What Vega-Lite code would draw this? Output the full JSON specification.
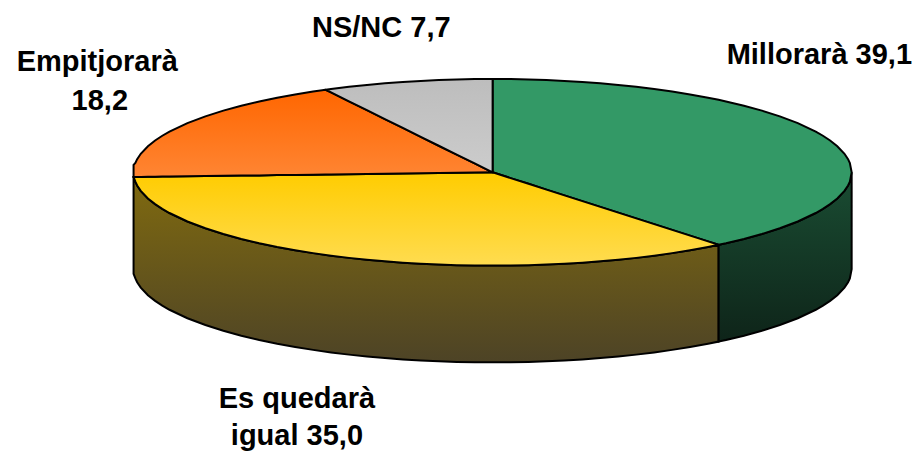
{"$schema":"https://vega.github.io/schema/vega-lite/v6.json","width":917,"height":452,"autosize":{"type":"fit","contains":"padding"},"padding":0,"background":"white","config":{"view":{"stroke":null}},
"datasets":{
"wallOlive":[{"x":-100,"y":-5,"y2":-108.7},{"x":-99.5,"y":-10,"y2":-113.7},{"x":-99,"y":-14.1,"y2":-117.8},{"x":-98,"y":-19.9,"y2":-123.6},{"x":-96,"y":-28,"y2":-131.7},{"x":-94,"y":-34.1,"y2":-137.8},{"x":-92,"y":-39.2,"y2":-142.9},{"x":-90,"y":-43.6,"y2":-147.3},{"x":-85,"y":-52.7,"y2":-156.4},{"x":-80,"y":-60,"y2":-163.7},{"x":-75,"y":-66.1,"y2":-169.8},{"x":-70,"y":-71.4,"y2":-175.1},{"x":-65,"y":-76,"y2":-179.7},{"x":-60,"y":-80,"y2":-183.7},{"x":-55,"y":-83.5,"y2":-187.2},{"x":-50,"y":-86.6,"y2":-190.3},{"x":-45,"y":-89.3,"y2":-193},{"x":-40,"y":-91.7,"y2":-195.4},{"x":-35,"y":-93.7,"y2":-197.4},{"x":-30,"y":-95.4,"y2":-199.1},{"x":-25,"y":-96.8,"y2":-200.5},{"x":-20,"y":-98,"y2":-201.7},{"x":-15,"y":-98.9,"y2":-202.6},{"x":-10,"y":-99.5,"y2":-203.2},{"x":-5,"y":-99.9,"y2":-203.6},{"x":0,"y":-100,"y2":-203.7},{"x":5,"y":-99.9,"y2":-203.6},{"x":10,"y":-99.5,"y2":-203.2},{"x":15,"y":-98.9,"y2":-202.6},{"x":20,"y":-98,"y2":-201.7},{"x":25,"y":-96.8,"y2":-200.5},{"x":30,"y":-95.4,"y2":-199.1},{"x":35,"y":-93.7,"y2":-197.4},{"x":40,"y":-91.7,"y2":-195.4},{"x":45,"y":-89.3,"y2":-193},{"x":50,"y":-86.6,"y2":-190.3},{"x":55,"y":-83.5,"y2":-187.2},{"x":60,"y":-80,"y2":-183.7},{"x":62.95,"y":-77.7,"y2":-181.4}],
"wallGreen":[{"x":62.95,"y":-77.7,"y2":-181.4},{"x":65,"y":-76,"y2":-179.7},{"x":70,"y":-71.4,"y2":-175.1},{"x":75,"y":-66.1,"y2":-169.8},{"x":80,"y":-60,"y2":-163.7},{"x":85,"y":-52.7,"y2":-156.4},{"x":90,"y":-43.6,"y2":-147.3},{"x":92,"y":-39.2,"y2":-142.9},{"x":94,"y":-34.1,"y2":-137.8},{"x":96,"y":-28,"y2":-131.7},{"x":98,"y":-19.9,"y2":-123.6},{"x":99,"y":-14.1,"y2":-117.8},{"x":99.5,"y":-10,"y2":-113.7},{"x":100,"y":0,"y2":-103.7}],
"topGreen":[{"x":0,"y":100,"y2":0},{"x":5,"y":99.9,"y2":-6.2},{"x":10,"y":99.5,"y2":-12.3},{"x":15,"y":98.9,"y2":-18.5},{"x":20,"y":98,"y2":-24.7},{"x":25,"y":96.8,"y2":-30.9},{"x":30,"y":95.4,"y2":-37},{"x":35,"y":93.7,"y2":-43.2},{"x":40,"y":91.7,"y2":-49.4},{"x":45,"y":89.3,"y2":-55.5},{"x":50,"y":86.6,"y2":-61.7},{"x":55,"y":83.5,"y2":-67.9},{"x":60,"y":80,"y2":-74},{"x":62.95,"y":77.7,"y2":-77.7},{"x":65,"y":76,"y2":-76},{"x":70,"y":71.4,"y2":-71.4},{"x":75,"y":66.1,"y2":-66.1},{"x":80,"y":60,"y2":-60},{"x":85,"y":52.7,"y2":-52.7},{"x":90,"y":43.6,"y2":-43.6},{"x":92,"y":39.2,"y2":-39.2},{"x":94,"y":34.1,"y2":-34.1},{"x":96,"y":28,"y2":-28},{"x":98,"y":19.9,"y2":-19.9},{"x":99,"y":14.1,"y2":-14.1},{"x":99.5,"y":10,"y2":-10},{"x":100,"y":0,"y2":0}],
"topYellow":[{"x":-100,"y":-5,"y2":-5},{"x":-99.5,"y":-5,"y2":-10},{"x":-99,"y":-5,"y2":-14.1},{"x":-98,"y":-4.9,"y2":-19.9},{"x":-96,"y":-4.8,"y2":-28},{"x":-94,"y":-4.7,"y2":-34.1},{"x":-92,"y":-4.6,"y2":-39.2},{"x":-90,"y":-4.5,"y2":-43.6},{"x":-85,"y":-4.3,"y2":-52.7},{"x":-80,"y":-4,"y2":-60},{"x":-75,"y":-3.8,"y2":-66.1},{"x":-70,"y":-3.5,"y2":-71.4},{"x":-65,"y":-3.3,"y2":-76},{"x":-60,"y":-3,"y2":-80},{"x":-55,"y":-2.8,"y2":-83.5},{"x":-50,"y":-2.5,"y2":-86.6},{"x":-45,"y":-2.3,"y2":-89.3},{"x":-40,"y":-2,"y2":-91.7},{"x":-35,"y":-1.8,"y2":-93.7},{"x":-30,"y":-1.5,"y2":-95.4},{"x":-25,"y":-1.3,"y2":-96.8},{"x":-20,"y":-1,"y2":-98},{"x":-15,"y":-0.8,"y2":-98.9},{"x":-10,"y":-0.5,"y2":-99.5},{"x":-5,"y":-0.3,"y2":-99.9},{"x":0,"y":0,"y2":-100},{"x":5,"y":-6.2,"y2":-99.9},{"x":10,"y":-12.3,"y2":-99.5},{"x":15,"y":-18.5,"y2":-98.9},{"x":20,"y":-24.7,"y2":-98},{"x":25,"y":-30.9,"y2":-96.8},{"x":30,"y":-37,"y2":-95.4},{"x":35,"y":-43.2,"y2":-93.7},{"x":40,"y":-49.4,"y2":-91.7},{"x":45,"y":-55.5,"y2":-89.3},{"x":50,"y":-61.7,"y2":-86.6},{"x":55,"y":-67.9,"y2":-83.5},{"x":60,"y":-74,"y2":-80},{"x":62.95,"y":-77.7,"y2":-77.7}],
"topOrange":[{"x":-100,"y":8,"y2":-5},{"x":-99.5,"y":10,"y2":-5},{"x":-99,"y":14.1,"y2":-5},{"x":-98,"y":19.9,"y2":-4.9},{"x":-96,"y":28,"y2":-4.8},{"x":-94,"y":34.1,"y2":-4.7},{"x":-92,"y":39.2,"y2":-4.6},{"x":-90,"y":43.6,"y2":-4.5},{"x":-85,"y":52.7,"y2":-4.3},{"x":-80,"y":60,"y2":-4},{"x":-75,"y":66.1,"y2":-3.8},{"x":-70,"y":71.4,"y2":-3.5},{"x":-65,"y":76,"y2":-3.3},{"x":-60,"y":80,"y2":-3},{"x":-55,"y":83.5,"y2":-2.8},{"x":-50,"y":86.6,"y2":-2.5},{"x":-46.5,"y":88.5,"y2":-2.3},{"x":-45,"y":85.6,"y2":-2.3},{"x":-40,"y":76.1,"y2":-2},{"x":-35,"y":66.6,"y2":-1.8},{"x":-30,"y":57.1,"y2":-1.5},{"x":-25,"y":47.6,"y2":-1.3},{"x":-20,"y":38.1,"y2":-1},{"x":-15,"y":28.5,"y2":-0.8},{"x":-10,"y":19,"y2":-0.5},{"x":-5,"y":9.5,"y2":-0.3},{"x":0,"y":0,"y2":0}],
"topGrey":[{"x":-46.5,"y":88.5,"y2":88.5},{"x":-45,"y":89.3,"y2":85.6},{"x":-40,"y":91.7,"y2":76.1},{"x":-35,"y":93.7,"y2":66.6},{"x":-30,"y":95.4,"y2":57.1},{"x":-25,"y":96.8,"y2":47.6},{"x":-20,"y":98,"y2":38.1},{"x":-15,"y":98.9,"y2":28.5},{"x":-10,"y":99.5,"y2":19},{"x":-5,"y":99.9,"y2":9.5},{"x":0,"y":100,"y2":0}],
"labels":[{"label":"Millorarà 39,1","value":39.1,"x":91,"y":125.9},{"label":"Es quedarà","value":35.0,"x":-54.5,"y":-243},{"label":"igual 35,0","value":35.0,"x":-54.5,"y":-282.7},{"label":"Empitjorarà","value":18.2,"x":-110.1,"y":118.4},{"label":"18,2","value":18.2,"x":-109.4,"y":76.6},{"label":"NS/NC 7,7","value":7.7,"x":-31,"y":154.8}]
},
"encoding":{
"x":{"field":"x","type":"quantitative","axis":null,"scale":{"domain":[-137.2,118.2],"nice":false,"zero":false}},
"y":{"field":"y","type":"quantitative","axis":null,"scale":{"domain":[-298.7,184.7],"nice":false,"zero":false}}
},
"layer":[
{"data":{"name":"wallOlive"},"mark":{"type":"area","stroke":"black","strokeWidth":2,"color":{"gradient":"linear","x1":0,"y1":0,"x2":0,"y2":1,"stops":[{"offset":0,"color":"#806a0f"},{"offset":1,"color":"#4d4326"}]}},"encoding":{"y2":{"field":"y2"}}},
{"data":{"name":"wallGreen"},"mark":{"type":"area","stroke":"black","strokeWidth":2,"color":{"gradient":"linear","x1":0,"y1":0,"x2":0,"y2":1,"stops":[{"offset":0,"color":"#1a4d33"},{"offset":1,"color":"#0e2419"}]}},"encoding":{"y2":{"field":"y2"}}},
{"data":{"name":"topGreen"},"mark":{"type":"area","stroke":"black","strokeWidth":2,"color":"#339966"},"encoding":{"y2":{"field":"y2"}}},
{"data":{"name":"topYellow"},"mark":{"type":"area","stroke":"black","strokeWidth":2,"color":{"gradient":"linear","x1":0,"y1":0,"x2":0,"y2":1,"stops":[{"offset":0,"color":"#ffcc00"},{"offset":1,"color":"#ffdc50"}]}},"encoding":{"y2":{"field":"y2"}}},
{"data":{"name":"topOrange"},"mark":{"type":"area","stroke":"black","strokeWidth":2,"color":{"gradient":"linear","x1":0,"y1":0,"x2":0,"y2":1,"stops":[{"offset":0,"color":"#ff6600"},{"offset":1,"color":"#ff8533"}]}},"encoding":{"y2":{"field":"y2"}}},
{"data":{"name":"topGrey"},"mark":{"type":"area","stroke":"black","strokeWidth":2,"color":{"gradient":"linear","x1":0,"y1":0,"x2":0,"y2":1,"stops":[{"offset":0,"color":"#bdbdbd"},{"offset":1,"color":"#cccccc"}]}},"encoding":{"y2":{"field":"y2"}}},
{"data":{"name":"labels"},"mark":{"type":"text","font":"Liberation Sans","fontWeight":"bold","fontSize":29,"align":"center","baseline":"middle","color":"black"},"encoding":{"text":{"field":"label"}}}
]}
